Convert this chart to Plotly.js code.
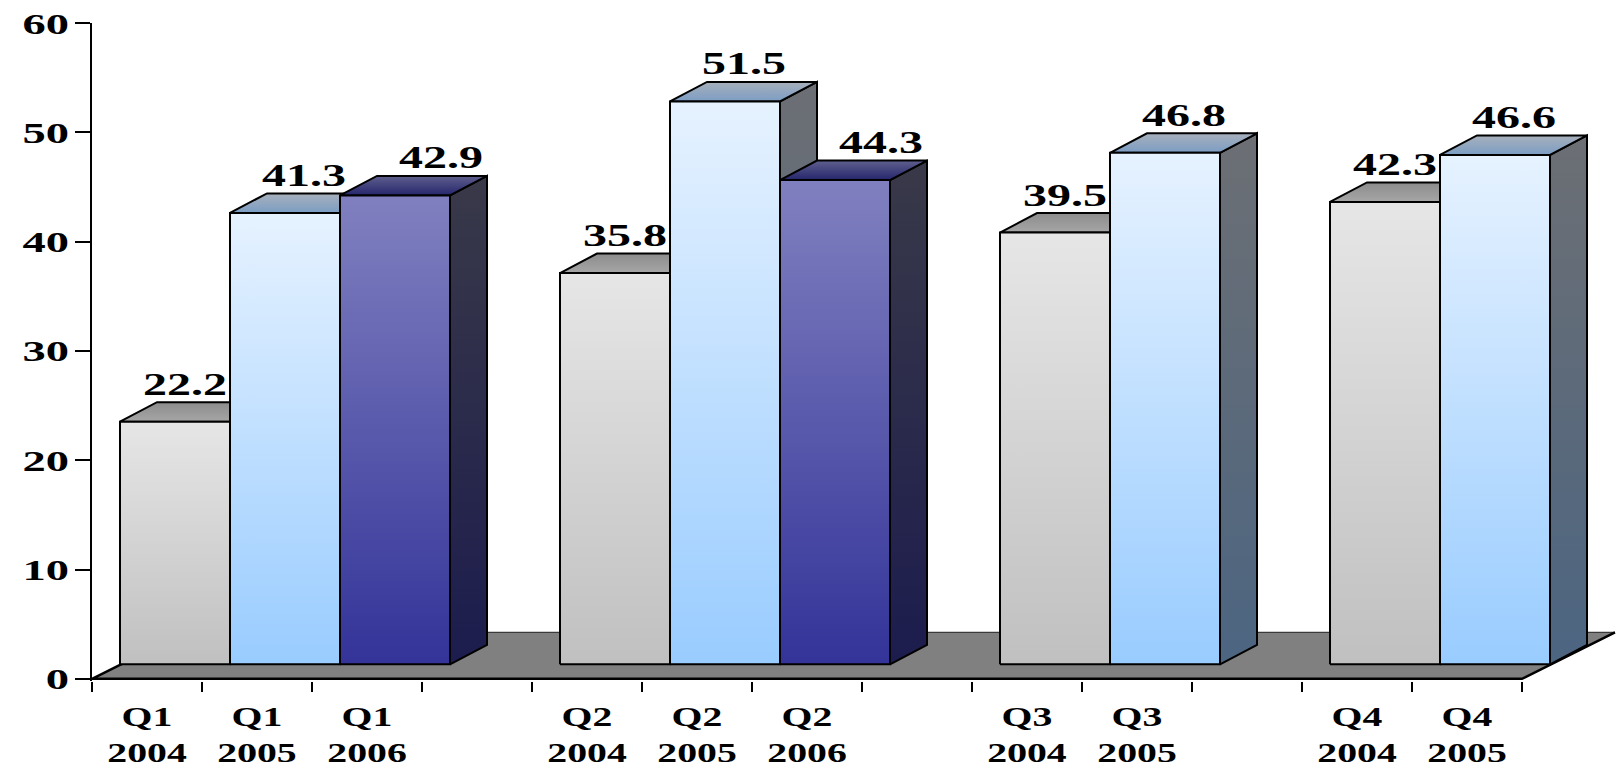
<!DOCTYPE html>
<html>
<head>
<meta charset="utf-8">
<script src="https://cdn.plot.ly/plotly-3.0.1.min.js"></script>
<style>
  html, body { margin: 0; padding: 0; background: #ffffff; }
  #chart { width: 1619px; height: 768px; }
</style>
</head>
<body>
<div id="chart"></div>
<script>
// ---------------- DATA ----------------
const quarters = ['Q1', 'Q2', 'Q3', 'Q4'];
const years = ['2004', '2005', '2006'];
const values2004 = [22.2, 35.8, 39.5, 42.3];
const values2005 = [41.3, 51.5, 46.8, 46.6];
const values2006 = [42.9, 44.3, null, null];
const yTickValues = [0, 10, 20, 30, 40, 50, 60];

// ---------------- STYLES ----------------
const seriesValues = { '2004': values2004, '2005': values2005, '2006': values2006 };
const faceStyles = {
  '2004': {
    front: [[0, '#c0c0c0'], [1, '#e6e6e6']],
    top:   [[0, '#a6a6a6'], [1, '#8c8c8c']],
    side:  [[0, '#6e6e6e'], [1, '#8a8a8a']],
    labelShift: 10
  },
  '2005': {
    front: [[0, '#99ccff'], [1, '#e6f2ff']],
    top:   [[0, '#7b9dc4'], [1, '#a8b0bb']],
    side:  [[0, '#4c6581'], [1, '#6c6f74']],
    labelShift: 19
  },
  '2006': {
    front: [[0, '#333399'], [1, '#8080c0']],
    top:   [[0, '#25256d'], [1, '#5f5f8d']],
    side:  [[0, '#1c1c4e'], [1, '#393949']],
    labelShift: 46
  }
};
const fontFamily = "'Liberation Serif', 'Times New Roman', serif";
const textStretch = { yTicks: 1.55, xTicks: 1.42, labels: 1.5 };

// ---------------- GEOMETRY (pixels) ----------------
const W = 1619, H = 768;
const M = { l: 92, r: 2, t: 23, b: 87 };
const plotW = W - M.l - M.r;
const plotH = H - M.t - M.b;
const yMin = -0.2, yMax = 60;
const pxPerY = plotH / (yMax - yMin);
const slotPx = 110;
const xMin = -0.5, xMax = xMin + plotW / slotPx;
const barShiftPx = { x: 28, y: 14.5 };
const barDepthPx = { x: 37, y: 19.5 };
const floorDepthPx = { x: 93, y: 46.5 };

const sx = barShiftPx.x / slotPx, sy = barShiftPx.y / pxPerY;
const bdx = barDepthPx.x / slotPx, bdy = barDepthPx.y / pxPerY;
const fdx = floorDepthPx.x / slotPx, fdy = floorDepthPx.y / pxPerY;

// ---------------- SLOTS ----------------
const slots = [];
quarters.forEach((q, qi) => {
  years.forEach(y => {
    const v = seriesValues[y][qi];
    if (v !== null && v !== undefined) slots.push({ q: q, year: y, v: v });
  });
  if (qi < quarters.length - 1) slots.push(null);
});
const nSlots = slots.length;

const tickVals = [], tickText = [];
slots.forEach((s, i) => { if (s) { tickVals.push(i); tickText.push(s.q + '<br>' + s.year); } });
const boundaries = [];
for (let i = 0; i <= nSlots; i++) boundaries.push(i - 0.5);

// ---------------- TRACES ----------------
const traces = [];
const L = -0.5, R = nSlots - 0.5;
// floor
traces.push({
  type: 'scatter', mode: 'lines', xaxis: 'x', yaxis: 'y',
  x: [L, R, R + fdx, L + fdx, L], y: [0, 0, fdy, fdy, 0],
  fill: 'toself', fillcolor: '#808080', line: { color: 'rgba(0,0,0,0)', width: 0 },
  hoverinfo: 'skip', showlegend: false
});
traces.push({
  type: 'scatter', mode: 'lines', xaxis: 'x', yaxis: 'y',
  x: [L + fdx, R + fdx], y: [fdy, fdy],
  line: { color: '#3a3a3a', width: 1.2 }, hoverinfo: 'skip', showlegend: false
});
traces.push({
  type: 'scatter', mode: 'lines', xaxis: 'x', yaxis: 'y',
  x: [L + fdx, L, R, R + fdx], y: [fdy, 0, 0, fdy],
  line: { color: '#000000', width: 2.5 }, hoverinfo: 'skip', showlegend: false
});

function face(xs, ys, cs) {
  return {
    type: 'scatter', mode: 'lines', xaxis: 'x2', yaxis: 'y2',
    x: xs, y: ys, fill: 'toself', fillcolor: cs[0][1],
    fillgradient: { type: 'vertical', colorscale: cs },
    line: { color: '#000000', width: 2 }, hoverinfo: 'skip', showlegend: false
  };
}

const annotations = [];
slots.forEach((s, i) => {
  if (!s) return;
  const st = faceStyles[s.year], v = s.v;
  const a = i - 0.5, b = i + 0.5;
  traces.push(face([b, b + bdx, b + bdx, b, b], [0, bdy, v + bdy, v, 0], st.side));
  traces.push(face([a, b, b + bdx, a + bdx, a], [v, v, v + bdy, v + bdy, v], st.top));
  traces.push(face([a, b, b, a, a], [0, 0, v, v, 0], st.front));
  annotations.push({
    xref: 'x2', yref: 'y2', x: i, y: v, text: v.toFixed(1), showarrow: false,
    xanchor: 'center', yanchor: 'middle', xshift: st.labelShift, yshift: 38,
    font: { family: fontFamily, size: 32, color: '#000000', weight: 'bold' }
  });
});

// ---------------- LAYOUT ----------------
const layout = {
  width: W, height: H,
  margin: { l: M.l, r: M.r, t: M.t, b: M.b, pad: 0 },
  paper_bgcolor: '#ffffff', plot_bgcolor: '#ffffff',
  showlegend: false,
  xaxis: {
    domain: [0, 1], range: [xMin, xMax], showline: false, zeroline: false, showgrid: false,
    tickmode: 'array', tickvals: tickVals, ticktext: tickText, ticks: '',
    ticklabelstandoff: 16,
    tickfont: { family: fontFamily, size: 28, color: '#000000', weight: 'bold' },
    minor: { tickmode: 'array', tickvals: boundaries, ticks: 'outside', ticklen: 10,
             tickwidth: 2, tickcolor: '#000000', showgrid: false },
    fixedrange: true
  },
  yaxis: {
    domain: [0, 1], range: [yMin, yMax], showline: true, linecolor: '#000000', linewidth: 2,
    zeroline: false, showgrid: false, tickmode: 'array', tickvals: yTickValues,
    ticks: 'outside', ticklen: 15, tickwidth: 2, tickcolor: '#000000',
    tickfont: { family: fontFamily, size: 30, color: '#000000', weight: 'bold' },
    fixedrange: true
  },
  xaxis2: { overlaying: 'x', range: [xMin - sx, xMax - sx], visible: false, fixedrange: true },
  yaxis2: { overlaying: 'y', range: [yMin - sy, yMax - sy], visible: false, fixedrange: true },
  annotations: annotations
};

// widen the serif glyphs like the original's stretched typeface (text stays text)
function stretchText(nodes, k) {
  nodes.forEach(n => {
    const lines = n.querySelectorAll('tspan.line');
    const targets = lines.length ? Array.from(lines) : [n];
    targets.forEach(t => {
      const w = t.getComputedTextLength();
      if (w > 0) {
        t.setAttribute('textLength', (w * k).toFixed(1));
        t.setAttribute('lengthAdjust', 'spacingAndGlyphs');
      }
    });
  });
}

Plotly.newPlot('chart', traces, layout, { displayModeBar: false, staticPlot: true }).then(gd => {
  stretchText(gd.querySelectorAll('.ytick text'), textStretch.yTicks);
  stretchText(gd.querySelectorAll('.xtick text'), textStretch.xTicks);
  stretchText(gd.querySelectorAll('text.annotation-text'), textStretch.labels);
});
</script>
</body>
</html>
